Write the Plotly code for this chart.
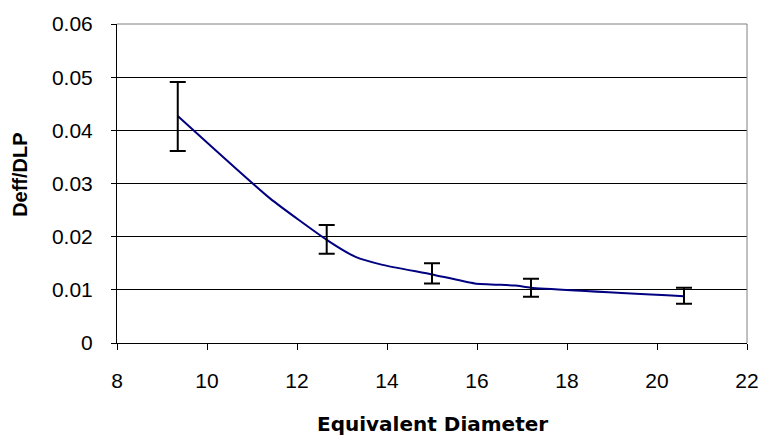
import plotly.graph_objects as go

# Smoothed curve (line series)
curve_x = [9.35, 11.4, 12.66, 13.3, 13.9, 15.0, 15.95, 16.85, 17.2, 20.6]
curve_y = [0.0427, 0.0272, 0.0194, 0.0162, 0.0147, 0.0129, 0.0112, 0.0108, 0.0104, 0.0088]

# Points with error bars
pt_x = [9.35, 12.66, 15.0, 17.2, 20.6]
pt_y = [0.0426, 0.0195, 0.0131, 0.0104, 0.0089]
pt_err = [0.0065, 0.0027, 0.0019, 0.0017, 0.0015]

x_ticks = [8, 10, 12, 14, 16, 18, 20, 22]
y_ticks = [0, 0.01, 0.02, 0.03, 0.04, 0.05, 0.06]
y_tick_text = ["0", "0.01", "0.02", "0.03", "0.04", "0.05", "0.06"]

x_title = "Equivalent Diameter"
y_title = "Deff/DLP"

FONT = "Liberation Sans, Arial, sans-serif"

fig = go.Figure()
fig.add_trace(go.Scatter(
    x=curve_x, y=curve_y, mode="lines",
    line=dict(color="#000080", width=2, shape="spline", smoothing=0.5),
    showlegend=False, hoverinfo="skip"))
fig.add_trace(go.Scatter(
    x=pt_x, y=pt_y, mode="markers",
    marker=dict(size=1, color="rgba(0,0,0,0)"),
    error_y=dict(type="data", array=pt_err, visible=True, color="black", thickness=2, width=8),
    showlegend=False))

fig.update_layout(
    width=771, height=440,
    margin=dict(l=117, r=19, t=24, b=97),
    paper_bgcolor="white", plot_bgcolor="white",
    font=dict(family=FONT, size=21, color="black"),
    xaxis=dict(range=[8, 22], tickvals=x_ticks, ticks="outside", ticklen=6, tickcolor="black",
               showgrid=False, zeroline=False, showline=True, linecolor="black", linewidth=1,
               tickfont=dict(size=21), ticklabelstandoff=13),
    yaxis=dict(range=[0, 0.06], tickvals=y_ticks, ticktext=y_tick_text, ticks="outside", ticklen=5,
               tickcolor="black", showgrid=True, gridcolor="black", gridwidth=1,
               zeroline=False, showline=True, linecolor="black", linewidth=1,
               tickfont=dict(size=21), ticklabelstandoff=14),
    shapes=[
        dict(type="line", xref="paper", yref="paper", x0=1, x1=1, y0=0, y1=1,
             line=dict(color="#808080", width=1)),
        dict(type="line", xref="paper", yref="paper", x0=0, x1=1, y0=1, y1=1,
             line=dict(color="#808080", width=1)),
    ],
    annotations=[
        dict(text="<b>" + x_title + "</b>", xref="paper", yref="paper", x=0.5, y=-0.254,
             xanchor="center", yanchor="middle", showarrow=False,
             font=dict(family="DejaVu Sans, sans-serif", size=20, color="black")),
        dict(text="<b>" + y_title + "</b>", xref="paper", yref="paper", x=-0.154, y=0.527,
             xanchor="center", yanchor="middle", showarrow=False, textangle=-90,
             font=dict(family=FONT, size=20, color="black")),
    ],
)

fig.write_html("out.html")
